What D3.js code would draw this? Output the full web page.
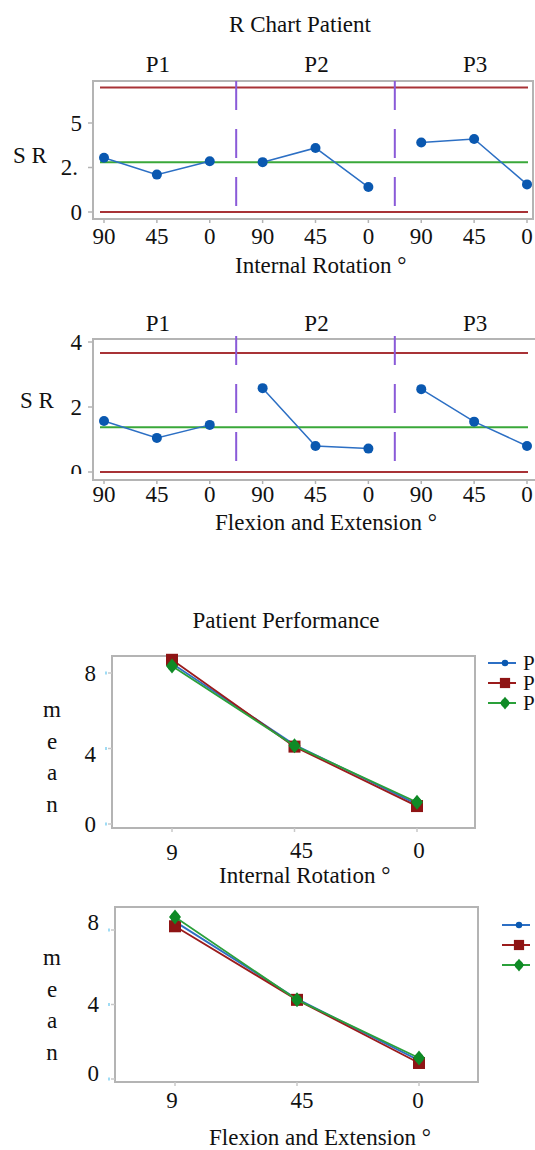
<!DOCTYPE html>
<html><head><meta charset="utf-8">
<script src="https://cdn.jsdelivr.net/npm/d3@7"></script>
<style>
html,body{margin:0;padding:0;background:#fff;overflow:hidden}
svg text{font-family:"Liberation Serif","Times New Roman",serif;fill:#111}
</style></head>
<body>
<svg id="c" width="535" height="1150"></svg>
<script>
// ---------- data ----------
const patients = ["P1", "P2", "P3"];
const degrees = ["90", "45", "0"];
const meanTickLabels = ["9", "45", "0"];

// R chart, Internal Rotation (range per patient at 90,45,0)
const irP1 = [3.05, 2.1, 2.85];
const irP2 = [2.8, 3.6, 1.4];
const irP3 = [3.9, 4.1, 1.55];
const irLimits = [0, 2.8, 7.0];           // LCL, CL, UCL
const irTicks = [0, 2.5, 5];
const irTickLabels = ["0", "2.", "5"];

// R chart, Flexion and Extension
const feP1 = [1.57, 1.05, 1.45];
const feP2 = [2.58, 0.8, 0.72];
const feP3 = [2.55, 1.55, 0.8];
const feLimits = [0, 1.38, 3.66];
const feTicks = [0, 2, 4];
const feTickLabels = ["0", "2", "4"];

// Patient performance means
const meanIrP1 = [8.5, 4.2, 1.05];
const meanIrP2 = [8.7, 4.1, 0.95];
const meanIrP3 = [8.37, 4.15, 1.15];
const meanFeP1 = [8.45, 4.3, 1.0];
const meanFeP2 = [8.2, 4.25, 0.86];
const meanFeP3 = [8.7, 4.25, 1.13];
const meanTicks = [0, 4, 8];

// ---------- drawing ----------
const svg = d3.select("#c");
const FS = 23;
const defs = svg.append("defs");

function text(x, y, s, anchor, size) {
  return svg.append("text").attr("x", x).attr("y", y)
    .attr("text-anchor", anchor || "start").attr("font-size", size || FS).text(s);
}

text(300, 32, "R Chart Patient", "middle");

function rChart(o) {
  const keys = [];
  patients.forEach(p => degrees.forEach(d => keys.push(p + "-" + d)));
  const x = d3.scalePoint().domain(keys).range([104, 527]);
  const y = d3.scaleLinear().domain(o.domain).range(o.yRange);
  const g = svg.append("g");
  g.append("rect").attr("x", 93).attr("y", o.top).attr("width", o.right - 93)
    .attr("height", o.bottom - o.top).attr("fill", "none")
    .attr("stroke", "#b4b4b4").attr("stroke-width", 2);
  const clipId = "clip" + o.id;
  defs.append("clipPath").attr("id", clipId).append("rect")
    .attr("x", 0).attr("y", 0).attr("width", 92).attr("height", o.labelClip);
  o.ticks.forEach((t, i) => {
    g.append("line").attr("x1", 88).attr("x2", 93).attr("y1", y(t)).attr("y2", y(t))
      .attr("stroke", "#b4b4b4").attr("stroke-width", 1.5);
    g.append("text").attr("x", o.tickLabels[i].length > 1 ? 78 : 82).attr("y", y(t) + 7.5)
      .attr("text-anchor", "end").attr("font-size", FS)
      .attr("clip-path", "url(#" + clipId + ")").text(o.tickLabels[i]);
  });
  keys.forEach((k, i) => {
    g.append("line").attr("x1", x(k)).attr("x2", x(k)).attr("y1", o.bottom).attr("y2", o.bottom + 4)
      .attr("stroke", "#b4b4b4").attr("stroke-width", 1.5);
    g.append("text").attr("x", x(k)).attr("y", o.xLabelY).attr("text-anchor", "middle")
      .attr("font-size", FS).text(degrees[i % 3]);
  });
  const [lcl, cl, ucl] = o.limits;
  [lcl, ucl].forEach(v => g.append("line").attr("x1", 100).attr("x2", 528)
    .attr("y1", y(v)).attr("y2", y(v)).attr("stroke", "#a83236").attr("stroke-width", 2));
  g.append("line").attr("x1", 100).attr("x2", 528).attr("y1", y(cl)).attr("y2", y(cl))
    .attr("stroke", "#3aa83a").attr("stroke-width", 2);
  const step = x.step();
  [2, 5].forEach(i => {
    const xx = x(keys[i]) + step / 2;
    g.append("line").attr("x1", xx).attr("x2", xx).attr("y1", o.divTop).attr("y2", o.divTop + 127)
      .attr("stroke", "#8a5ad8").attr("stroke-width", 2).attr("stroke-dasharray", "29,19");
  });
  patients.forEach((p, i) => {
    const cx = x(keys[i * 3 + 1]) + 1;
    g.append("text").attr("x", cx).attr("y", o.panelY).attr("text-anchor", "middle")
      .attr("font-size", FS).text(p);
  });
  const line = d3.line().x(d => x(d.k)).y(d => y(d.v));
  o.series.forEach((vals, pi) => {
    const pts = vals.map((v, di) => ({ k: patients[pi] + "-" + degrees[di], v }));
    g.append("path").attr("d", line(pts)).attr("fill", "none")
      .attr("stroke", "#2c6fc4").attr("stroke-width", 1.5);
    g.selectAll(null).data(pts).enter().append("circle")
      .attr("cx", d => x(d.k)).attr("cy", d => y(d.v)).attr("r", 5)
      .attr("fill", "#0a58b0");
  });
  text(o.srX, o.srY, "S R");
  text(o.titleX, o.titleY, o.title);
}

rChart({
  id: 1, domain: [0, 5], yRange: [212, 123], top: 81, bottom: 219, right: 533,
  ticks: irTicks, tickLabels: irTickLabels, labelClip: 400,
  xLabelY: 244, limits: irLimits, divTop: 81, panelY: 72,
  series: [irP1, irP2, irP3], srX: 13, srY: 163,
  titleX: 235, titleY: 273, title: "Internal Rotation °"
});
rChart({
  id: 2, domain: [0, 4], yRange: [472, 342], top: 339, bottom: 480, right: 538,
  ticks: feTicks, tickLabels: feTickLabels, labelClip: 474,
  xLabelY: 502, limits: feLimits, divTop: 336, panelY: 331,
  series: [feP1, feP2, feP3], srX: 20, srY: 408,
  titleX: 215, titleY: 530, title: "Flexion and Extension °"
});

text(286, 628, "Patient Performance", "middle");

const seriesStyle = [
  { color: "#2c6fc4", fill: "#0a58b0", shape: "circle" },
  { color: "#9b1c1c", fill: "#8e1414", shape: "square" },
  { color: "#2aa03a", fill: "#0f8a26", shape: "diamond" }
];

function marker(g, shape, cx, cy, fill, scale) {
  const s = scale || 1;
  if (shape === "circle") {
    g.append("circle").attr("cx", cx).attr("cy", cy).attr("r", 3.8 * s).attr("fill", fill);
  } else if (shape === "square") {
    g.append("rect").attr("x", cx - 6 * s).attr("y", cy - 6 * s).attr("width", 12 * s)
      .attr("height", 12 * s).attr("fill", fill);
  } else {
    const r = 7.5 * s;
    g.append("path").attr("d",
      `M${cx},${cy - r}L${cx + r * 0.8},${cy}L${cx},${cy + r}L${cx - r * 0.8},${cy}Z`)
      .attr("fill", fill);
    g.append("circle").attr("cx", cx).attr("cy", cy).attr("r", r * 0.62).attr("fill", fill);
  }
}

function meanChart(o) {
  const x = d3.scalePoint().domain(degrees).range(o.xRange);
  const y = d3.scaleLinear().domain([0, 8]).range(o.yRange);
  const g = svg.append("g");
  g.append("rect").attr("x", o.left).attr("y", o.top).attr("width", o.right - o.left)
    .attr("height", o.bottom - o.top).attr("fill", "none")
    .attr("stroke", "#b4b4b4").attr("stroke-width", 2);
  meanTicks.forEach(t => {
    g.append("line").attr("x1", o.left - 7).attr("x2", o.left - 5).attr("y1", y(t)).attr("y2", y(t))
      .attr("stroke", "#9fdcf5").attr("stroke-width", 3);
    g.append("line").attr("x1", o.left - 4).attr("x2", o.left).attr("y1", y(t)).attr("y2", y(t))
      .attr("stroke", "#c8c8c8").attr("stroke-width", 1.5);
    g.append("text").attr("x", o.left - 16).attr("y", y(t) + 7.5 + (o.labelShift[t] || 0))
      .attr("text-anchor", "end").attr("font-size", FS).text(String(t));
  });
  const clipId = "mclip" + o.id;
  defs.append("clipPath").attr("id", clipId).append("rect")
    .attr("x", 0).attr("y", 0).attr("width", 535).attr("height", o.firstClip);
  degrees.forEach((d, i) => {
    g.append("line").attr("x1", x(d)).attr("x2", x(d)).attr("y1", o.bottom).attr("y2", o.bottom + 4)
      .attr("stroke", "#c8c8c8").attr("stroke-width", 1.5);
    g.append("text").attr("x", x(d) + o.labelDx[i]).attr("y", o.xLabelY + (i === 0 ? o.firstDy : 0))
      .attr("text-anchor", "middle").attr("font-size", FS)
      .attr("clip-path", i === 0 ? "url(#" + clipId + ")" : null)
      .text(meanTickLabels[i]);
  });
  const line = d3.line().x((v, i) => x(degrees[i])).y(v => y(v));
  o.series.forEach((vals, si) => {
    const st = seriesStyle[si];
    g.append("path").attr("d", line(vals)).attr("fill", "none")
      .attr("stroke", st.color).attr("stroke-width", 1.8);
    vals.forEach((v, i) => marker(g, st.shape, x(degrees[i]), y(v), st.fill));
  });
  patients.forEach((p, i) => {
    const ly = o.legendY + i * o.legendStep;
    const st = seriesStyle[i];
    g.append("line").attr("x1", o.legendX).attr("x2", o.legendX + 28).attr("y1", ly).attr("y2", ly)
      .attr("stroke", st.color).attr("stroke-width", 2);
    marker(g, st.shape, o.legendX + 17, ly, st.fill, 0.85);
    if (o.legendText) {
      g.append("text").attr("x", o.legendX + 35).attr("y", ly + 7).attr("font-size", 21).text(p);
    }
  });
  ["m", "e", "a", "n"].forEach((c, i) => {
    g.append("text").attr("x", 52).attr("y", o.meanY + i * o.meanStep)
      .attr("text-anchor", "middle").attr("font-size", FS).text(c);
  });
  text(o.titleX, o.titleY, o.title);
}

meanChart({
  id: 3, xRange: [172, 417], yRange: [824, 673], left: 112, right: 475, top: 656, bottom: 828,
  labelShift: { 4: 6 }, xLabelY: 858, firstDy: 2, firstClip: 860, labelDx: [0, 7, 2],
  series: [meanIrP1, meanIrP2, meanIrP3], legendX: 488, legendY: 663, legendStep: 20, legendText: true,
  meanY: 717, meanStep: 31.5, titleX: 219, titleY: 883, title: "Internal Rotation °"
});
meanChart({
  id: 4, xRange: [175, 419], yRange: [1079, 930], left: 115, right: 478, top: 907, bottom: 1082,
  labelShift: { 8: -8, 0: -6 }, xLabelY: 1108, firstDy: 0, firstClip: 1200, labelDx: [-3, 5, -1],
  series: [meanFeP1, meanFeP2, meanFeP3], legendX: 502, legendY: 925, legendStep: 20, legendText: false,
  meanY: 965, meanStep: 31.5, titleX: 209, titleY: 1145, title: "Flexion and Extension °"
});
</script>
</body></html>
